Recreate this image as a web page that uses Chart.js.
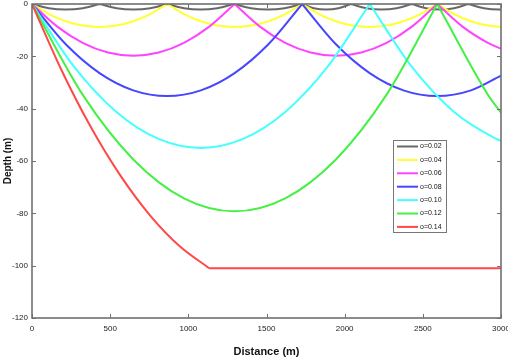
<!DOCTYPE html>
<html><head><meta charset="utf-8">
<script src="https://cdn.jsdelivr.net/npm/chart.js@4/dist/chart.umd.min.js"></script>
<style>html,body{margin:0;padding:0;background:#fff;}</style>
</head><body>
<canvas id="c" width="508" height="359"></canvas>
<script>
// ---- data (null = break at a cusp) ----
const labels = ['o=0.02','o=0.04','o=0.06','o=0.08','o=0.10','o=0.12','o=0.14'];
const xTicks = [0,500,1000,1500,2000,2500,3000];
const yTicks = [-120,-100,-80,-60,-40,-20,0];

const dist002 = [0,108,216,325,433, 433, 433,541,649,757,865, 865, 865,972,1078,1185,1292, 1292, 1292,1400,1508,1616,1724, 1724, 1724,1803,1882,1961,2040, 2040, 2040,2138,2235,2333,2430, 2430, 2430,2520,2610,2700,2790, 2790, 2790,2890,2990,3000];
const depth002 = [0,-1.6,-2.1,-1.6,0, null, 0,-1.6,-2.1,-1.6,0, null, 0,-1.6,-2.1,-1.6,0, null, 0,-1.6,-2.1,-1.6,0, null, 0,-1.6,-2.1,-1.6,0, null, 0,-1.6,-2.1,-1.6,0, null, 0,-1.6,-2.1,-1.6,0, null, 0,-1.6,-2.1,-2.1];

const dist004 = [0,108,216,324,432,540,648,756,864, 864, 864,972,1080,1188,1296,1404,1512,1620,1728, 1728, 1728,1836,1944,2052,2160,2268,2376,2484,2592, 2592, 2592,2700,2808,2916,3000];
const depth004 = [0,-3.85,-6.6,-8.25,-8.8,-8.25,-6.6,-3.85,0, null, 0,-3.85,-6.6,-8.25,-8.8,-8.25,-6.6,-3.85,0, null, 0,-3.85,-6.6,-8.25,-8.8,-8.25,-6.6,-3.85,0, null, 0,-3.85,-6.6,-8.25,-8.77];

const dist006 = [0,162,324,486,648,810,972,1134,1296, 1296, 1296,1458,1620,1782,1944,2106,2268,2430,2592, 2592, 2592,2754,2916,3000];
const depth006 = [0,-8.66,-14.85,-18.56,-19.8,-18.56,-14.85,-8.66,0, null, 0,-8.66,-14.85,-18.56,-19.8,-18.56,-14.85,-8.66,0, null, 0,-8.66,-14.85,-17.1];

const dist008 = [0,216,432,648,864,1080,1296,1512,1728, 1728, 1728,1944,2160,2376,2592,2808,3000];
const depth008 = [0,-15.4,-26.4,-33,-35.2,-33,-26.4,-15.4,0, null, 0,-15.4,-26.4,-33,-35.2,-33,-27.4];

const dist010 = [0,270,540,810,1080,1350,1620,1890,2160, 2160, 2160,2430,2700,2970,3000];
const depth010 = [0,-24.06,-41.25,-51.56,-55,-51.56,-41.25,-24.06,0, null, 0,-24.06,-41.25,-51.56,-52.3];

const dist012 = [0,324,648,972,1296,1620,1944,2268,2592, 2592, 2592,2916,3000];
const depth012 = [0,-34.65,-59.4,-74.25,-79.2,-74.25,-59.4,-34.65,0, null, 0,-34.65,-41.5];

const dist014 = [0,189,378,567,756,945,1134, 1134, 1134,3000];
const depth014 = [0,-25.3,-47.2,-65.7,-80.85,-92.6,-101, null, -101,-101];

const colors = ['#686868','#ffff33','#ff44ff','#4646ff','#44ffff','#44f044','#ff4848'];
// -----------------------------------------------------------

const series = [[dist002,depth002],[dist004,depth004],[dist006,depth006],[dist008,depth008],[dist010,depth010],[dist012,depth012],[dist014,depth014]];

const datasets = series.map((s, i) => ({
  label: labels[i],
  data: s[0].map((x, j) => ({x: x, y: s[1][j]})),
  borderColor: colors[i],
  backgroundColor: colors[i],
  borderWidth: 2,
  pointRadius: 0,
  fill: false,
  spanGaps: false,
  cubicInterpolationMode: 'monotone',
  order: 6 - i
}));

const boxPlugin = {
  id: 'box',
  afterDatasetsDraw(chart) {
    const {ctx, chartArea: a, scales} = chart;
    const x = scales.x, y = scales.y;
    ctx.save();
    ctx.strokeStyle = '#707070';
    ctx.lineWidth = 1;
    ctx.beginPath();
    xTicks.forEach(v => {
      const px = Math.round(x.getPixelForValue(v)) + 0.5;
      ctx.moveTo(px, a.bottom); ctx.lineTo(px, a.bottom - 4);
      ctx.moveTo(px, a.top); ctx.lineTo(px, a.top + 4);
    });
    yTicks.forEach(v => {
      const py = Math.round(y.getPixelForValue(v)) + 0.5;
      ctx.moveTo(a.left, py); ctx.lineTo(a.left + 4, py);
      ctx.moveTo(a.right, py); ctx.lineTo(a.right - 4, py);
    });
    ctx.stroke();
    ctx.lineWidth = 1.6;
    ctx.strokeRect(a.left, a.top, a.right - a.left, a.bottom - a.top);
    ctx.restore();
  },
  afterDraw(chart) {
    const ctx = chart.ctx;
    const bx = 393, by = 140, bw = 53, bh = 92;
    ctx.save();
    ctx.fillStyle = '#ffffff';
    ctx.fillRect(bx, by, bw, bh);
    ctx.strokeStyle = '#777777';
    ctx.lineWidth = 1;
    ctx.strokeRect(bx + 0.5, by + 0.5, bw, bh);
    ctx.font = '7px "Liberation Sans", Arial, sans-serif';
    ctx.textBaseline = 'middle';
    ctx.fillStyle = '#111';
    chart.data.datasets.forEach((d, i) => {
      const yy = by + 6.5 + i * 13.4;
      ctx.strokeStyle = d.borderColor;
      ctx.lineWidth = 2;
      ctx.beginPath();
      ctx.moveTo(bx + 4, yy); ctx.lineTo(bx + 25, yy);
      ctx.stroke();
      ctx.fillText(d.label, bx + 27, yy);
    });
    ctx.restore();
  }
};

new Chart(document.getElementById('c'), {
  type: 'line',
  data: { datasets: datasets },
  plugins: [boxPlugin],
  options: {
    responsive: false,
    animation: false,
    devicePixelRatio: 1,
    layout: { padding: { top: 4, right: 7, left: 0, bottom: 0 } },
    plugins: { legend: { display: false }, tooltip: { enabled: false } },
    scales: {
      x: {
        type: 'linear', min: 0, max: 3000,
        afterBuildTicks: s => { s.ticks = xTicks.map(v => ({value: v})); },
        ticks: { font: { family: '"Liberation Sans", Arial, sans-serif', size: 8 }, color: '#222', padding: 6, maxRotation: 0, autoSkip: false, callback: v => String(v) },
        grid: { display: false, drawTicks: false },
        border: { display: false },
        title: { display: true, text: 'Distance (m)', font: { family: '"Liberation Sans", Arial, sans-serif', size: 11, weight: 'bold' }, color: '#111', padding: { top: 0, bottom: 0 } },
        afterFit: s => { s.height = 41; s.paddingLeft = 0; s.paddingRight = 0; }
      },
      y: {
        type: 'linear', min: -120, max: 0,
        afterBuildTicks: s => { s.ticks = yTicks.map(v => ({value: v})); },
        ticks: { font: { family: '"Liberation Sans", Arial, sans-serif', size: 8 }, color: '#222', padding: 4, autoSkip: false, callback: v => String(v) },
        grid: { display: false, drawTicks: false },
        border: { display: false },
        title: { display: true, text: 'Depth (m)', font: { family: '"Liberation Sans", Arial, sans-serif', size: 10, weight: 'bold' }, color: '#111', padding: { top: 2, bottom: 0 } },
        afterFit: s => { s.width = 32; s.paddingTop = 0; s.paddingBottom = 0; }
      }
    }
  }
});
</script>
</body></html>
